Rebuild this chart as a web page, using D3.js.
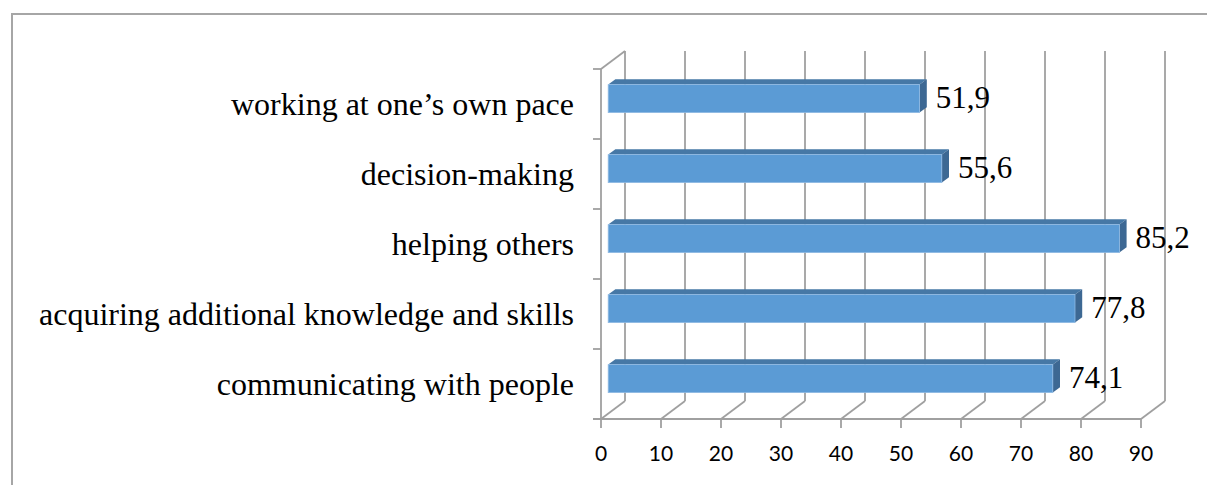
<!DOCTYPE html>
<html><head><meta charset="utf-8">
<script src="https://cdn.jsdelivr.net/npm/d3@7"></script>
<style>html,body{margin:0;padding:0;background:#fff;}svg{display:block;}</style>
</head><body>
<svg id="c" width="1207" height="485"></svg>
<script>
const categories = ["working at one\u2019s own pace","decision-making","helping others","acquiring additional knowledge and skills","communicating with people"];
const values = [51.9, 55.6, 85.2, 77.8, 74.1];
const valueLabels = ["51,9","55,6","85,2","77,8","74,1"];
const ticks = [0,10,20,30,40,50,60,70,80,90];

const svg = d3.select("#c");
const grid = "#A0A0A0";
// outer frame
svg.append("path").attr("d","M12,485 L12,14 L1207,14").attr("fill","none").attr("stroke","#A6A6A6").attr("stroke-width",2);

const x = d3.scaleLinear().domain([0,90]).range([601,1141]);
const y = d3.scaleBand().domain(categories).range([69,419]);
const DX = 24, DY = -18;
const off = d => [DX*d, DY*d];

const g = svg.append("g");
// back wall gridlines
ticks.forEach(t => {
  const [bx,by] = off(1);
  g.append("line").attr("x1",x(t)+bx).attr("x2",x(t)+bx).attr("y1",69+by).attr("y2",419+by).attr("stroke",grid).attr("stroke-width",1.8);
  g.append("line").attr("x1",x(t)).attr("y1",419).attr("x2",x(t)+bx).attr("y2",419+by).attr("stroke",grid).attr("stroke-width",1.8);
  g.append("line").attr("x1",x(t)).attr("x2",x(t)).attr("y1",419).attr("y2",428).attr("stroke",grid).attr("stroke-width",1.8);
});
// floor front line
g.append("line").attr("x1",x(0)-8).attr("x2",x(90)).attr("y1",419).attr("y2",419).attr("stroke",grid).attr("stroke-width",1.8);
// left wall
g.append("line").attr("x1",x(0)).attr("x2",x(0)).attr("y1",69).attr("y2",419).attr("stroke",grid).attr("stroke-width",1.8);
g.append("line").attr("x1",x(0)).attr("y1",69).attr("x2",x(0)+DX).attr("y2",69+DY).attr("stroke",grid).attr("stroke-width",1.8);
categories.concat([null]).forEach((c,i) => {
  const yy = c ? y(c) : 419;
  g.append("line").attr("x1",x(0)-8).attr("x2",x(0)).attr("y1",yy).attr("y2",yy).attr("stroke",grid).attr("stroke-width",1.8);
});

// tick labels
svg.append("g").selectAll("text").data(ticks).join("text")
  .attr("x",d=>x(d)).attr("y",461).attr("text-anchor","middle")
  .attr("font-family","Lato, 'Open Sans', sans-serif").attr("font-size",21).attr("fill","#000").text(d=>d);

// category labels
svg.append("g").selectAll("text").data(categories).join("text")
  .attr("x",574).attr("y",d=>y(d)+y.bandwidth()/2).attr("dy","0.34em").attr("text-anchor","end")
  .attr("font-family","'Liberation Serif','Times New Roman',serif").attr("font-size",32).attr("fill","#000").text(d=>d);

// bars
const d0 = 0.3, d1 = 0.6, half = 14;
const bars = svg.append("g");
categories.forEach((c,i) => {
  const v = values[i];
  const yc = y(c) + y.bandwidth()/2;
  const [fx,fy] = off(d0), [bx,by] = off(d1);
  const xl = x(0)+fx, xr = x(v)+fx, yt = yc-half+fy, yb = yc+half+fy;
  const ddx = bx-fx, ddy = by-fy;
  // top
  bars.append("path").attr("d",`M${xl},${yt} L${xl+ddx},${yt+ddy} L${xr+ddx},${yt+ddy} L${xr},${yt} Z`).attr("fill","#4678A6");
  // side
  bars.append("path").attr("d",`M${xr},${yt} L${xr+ddx},${yt+ddy} L${xr+ddx},${yb+ddy} L${xr},${yb} Z`).attr("fill","#3D6893");
  // front
  bars.append("rect").attr("x",xl).attr("y",yt).attr("width",xr-xl).attr("height",yb-yt).attr("fill","#5B9BD5").attr("stroke","#8FBAE3").attr("stroke-width",0.8);
  // label
  svg.append("text").attr("x",xr+ddx+9).attr("y",yc+fy).attr("dy","0.3em")
    .attr("font-family","'Liberation Serif','Times New Roman',serif").attr("font-size",31).attr("fill","#000").text(valueLabels[i]);
});
</script>
</body></html>
